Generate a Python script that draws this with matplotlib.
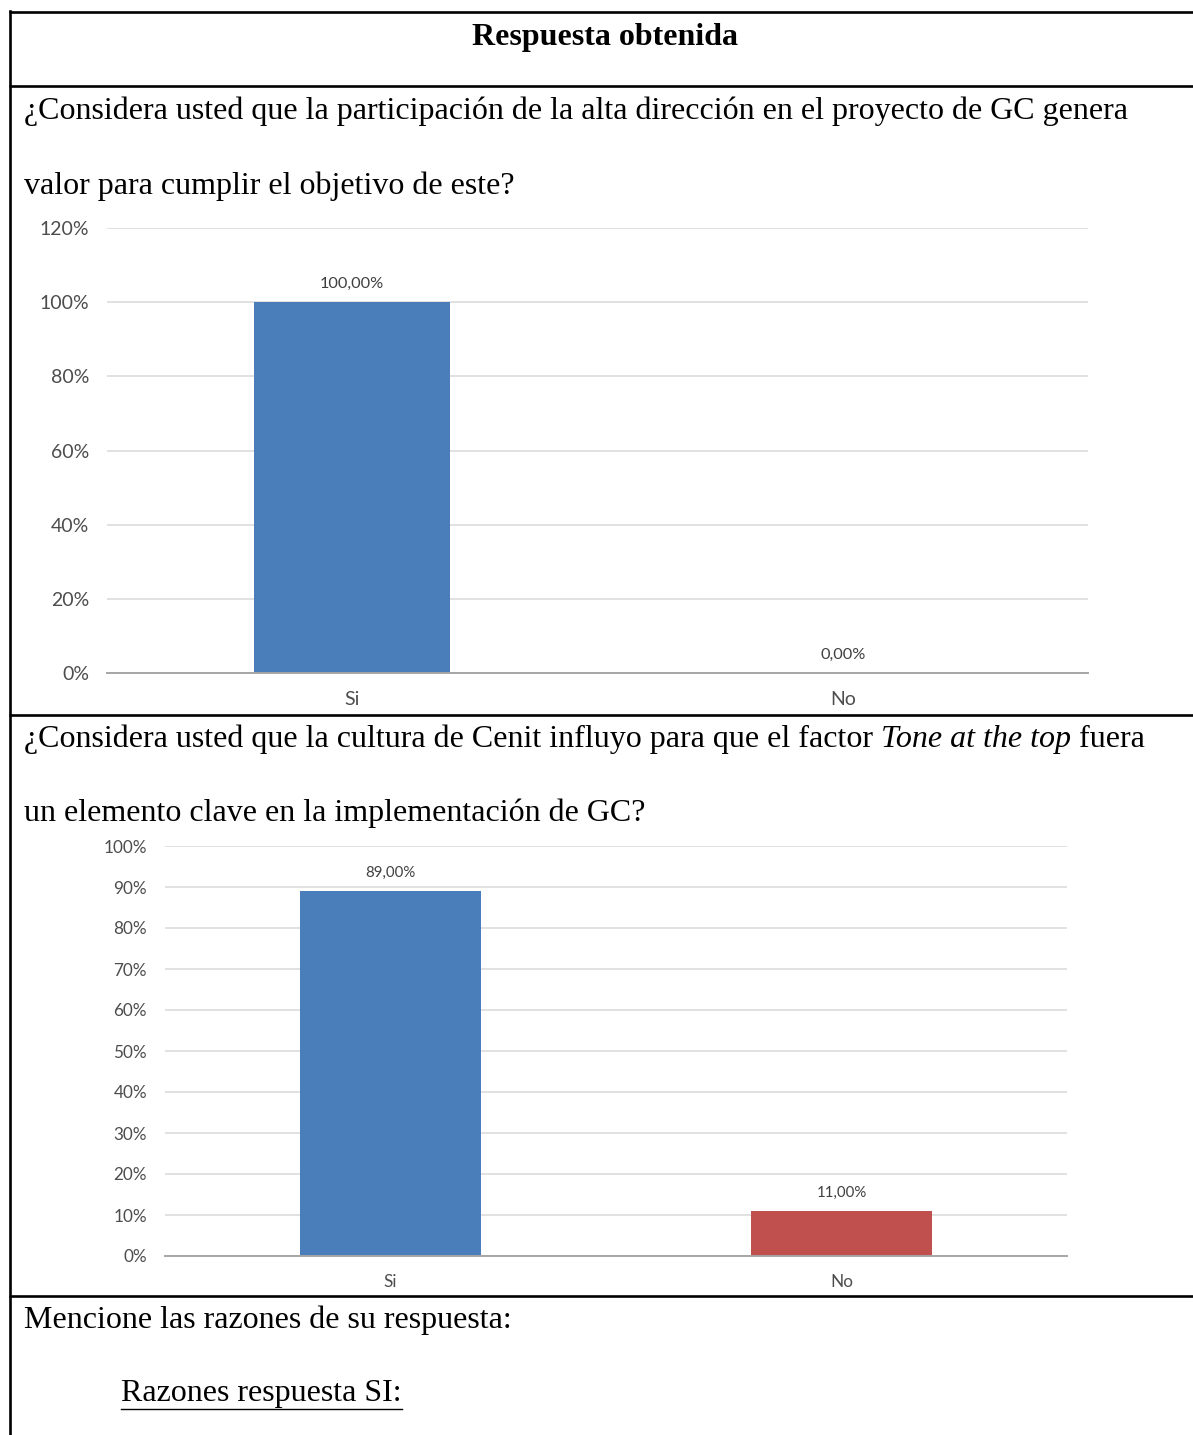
import numpy as np
import matplotlib
matplotlib.use('Agg')
import matplotlib.pyplot as plt
from matplotlib.lines import Line2D
from matplotlib.ticker import PercentFormatter

W, H = 1193, 1435
DPI = 100

# Pregunta 1: participacion de la alta direccion
cats1 = ['Si', 'No']
vals1 = [1.00, 0.00]
colors1 = ['#4A7EBB', '#4A7EBB']

# Pregunta 2: cultura de Cenit / Tone at the top
cats2 = ['Si', 'No']
vals2 = [0.89, 0.11]
colors2 = ['#4A7EBB', '#C0504D']

header = 'Respuesta obtenida'
q1_lines = ['¿Considera usted que la participación de la alta dirección en el proyecto de GC genera',
            'valor para cumplir el objetivo de este?']
q2_parts = [('¿Considera usted que la cultura de Cenit influyo para que el factor ', 'normal'),
            ('Tone at the top', 'italic'),
            (' fuera', 'normal')]
q2_line2 = 'un elemento clave en la implementación de GC?'
razones = 'Mencione las razones de su respuesta:'
razones_si = 'Razones respuesta SI:'

SERIF = 'Liberation Serif'
SANS = 'Lato'
FS = 23


def fx(x):
    return x / W


def fy(y):
    return 1 - y / H


def hline(fig, y, x0=9, x1=W):
    fig.add_artist(Line2D([fx(x0), fx(x1)], [fy(y), fy(y)], transform=fig.transFigure,
                          color='black', lw=1.9, solid_capstyle='butt'))


def fmt(v):
    return ('%.2f%%' % (v * 100)).replace('.', ',')


def chart(fig, l, t, r, b, cats, vals, colors, ymax, step, tfs, lfs):
    ax = fig.add_axes([fx(l), fy(b), (r - l) / W, (b - t) / H])
    x = np.arange(len(cats))
    bars = ax.bar(x, vals, width=0.4, color=colors, zorder=3)
    ax.set_xlim(-0.5, len(cats) - 0.5)
    ax.set_ylim(0, ymax)
    ax.set_yticks(np.arange(0, ymax + 1e-9, step))
    ax.yaxis.set_major_formatter(PercentFormatter(1.0, decimals=0))
    ax.set_xticks(x)
    ax.set_xticklabels(cats)
    ax.grid(axis='y', color='#D9D9D9', lw=1.1)
    ax.set_axisbelow(True)
    for s in ['top', 'left', 'right']:
        ax.spines[s].set_visible(False)
    ax.spines['bottom'].set_color('#A6A6A6')
    ax.spines['bottom'].set_linewidth(1.4)
    ax.spines['bottom'].set_zorder(4)
    ax.tick_params(length=0, colors='#4D4D4D')
    ax.tick_params(axis='y', pad=13, labelsize=tfs)
    ax.tick_params(axis='x', pad=13, labelsize=tfs)
    for lab in ax.get_xticklabels() + ax.get_yticklabels():
        lab.set_family(SANS)
    ax.bar_label(bars, labels=[fmt(v) for v in vals], padding=8, fontsize=lfs,
                 color='#404040', family=SANS)
    ax.patch.set_alpha(0)
    return ax


fig = plt.figure(figsize=(W / DPI, H / DPI), dpi=DPI)
fig.patch.set_facecolor('white')

# bordes de la tabla
hline(fig, 12)
hline(fig, 86)
hline(fig, 715)
hline(fig, 1296)
fig.add_artist(Line2D([fx(10), fx(10)], [fy(11), fy(H)], transform=fig.transFigure,
                      color='black', lw=1.9))

fig.text(fx(605), fy(37), header, ha='center', va='center', fontsize=FS,
         family=SERIF, weight='bold')

fig.text(fx(24), fy(111), q1_lines[0], ha='left', va='center', fontsize=FS, family=SERIF)
fig.text(fx(24), fy(186), q1_lines[1], ha='left', va='center', fontsize=FS, family=SERIF)

# primera linea de la pregunta 2 con tramo en cursiva
renderer = fig.canvas.get_renderer()
xpos = 24
for txt, style in q2_parts:
    t = fig.text(fx(xpos), fy(747), txt, ha='left', va='baseline', fontsize=FS,
                 family=SERIF, style=style)
    xpos = t.get_window_extent(renderer).x1
fig.text(fx(24), fy(813), q2_line2, ha='left', va='center', fontsize=FS, family=SERIF)

fig.text(fx(24), fy(1320), razones, ha='left', va='center', fontsize=FS, family=SERIF)
t = fig.text(fx(121), fy(1394), razones_si, ha='left', va='center', fontsize=FS, family=SERIF)
bb = t.get_window_extent(renderer)
fig.add_artist(Line2D([bb.x0 / W, bb.x1 / W], [fy(1409), fy(1409)], transform=fig.transFigure,
                      color='black', lw=1.0))

chart(fig, 107, 228, 1088, 673, cats1, vals1, colors1, 1.2, 0.2, 14, 11.8)
chart(fig, 165, 846, 1067, 1256, cats2, vals2, colors2, 1.0, 0.1, 12.3, 10.8)

fig.savefig('out.png', dpi=DPI, facecolor='white')
